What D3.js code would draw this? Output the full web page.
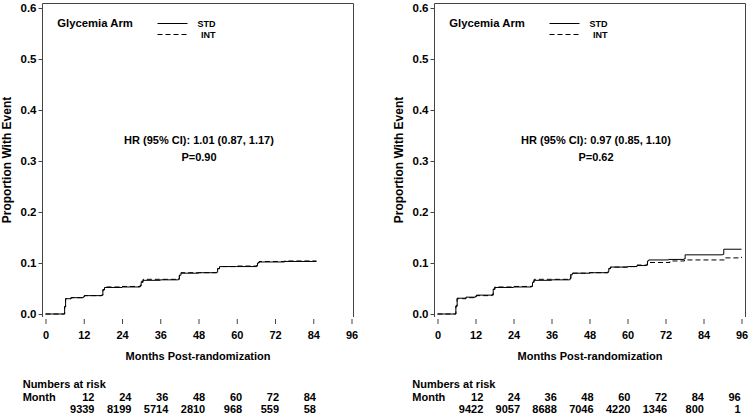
<!DOCTYPE html>
<html><head><meta charset="utf-8">
<script src="https://cdn.jsdelivr.net/npm/d3@7"></script>
<style>
body{margin:0;background:#fff}
svg{display:block}
text{font-family:"Liberation Sans",Arial,sans-serif;font-weight:bold;fill:#000}
</style>
</head><body><svg id="c" width="750" height="415"></svg>
<script>
// ---------- data ----------
const xTicks = [0, 12, 24, 36, 48, 60, 72, 84, 96];
const yTicks = [0.0, 0.1, 0.2, 0.3, 0.4, 0.5, 0.6];
const legendTitle = "Glycemia Arm";
const seriesNames = ["STD", "INT"];
const xTitle = "Months Post-randomization";
const yTitle = "Proportion With Event";

// step points [month, cumulative proportion]
const leftStd = [[0,0],[5.8,0],[6.0,0.015],[6.3,0.030],[8,0.032],[11.9,0.034],[12.2,0.036],[17.6,0.037],[18.0,0.047],[18.5,0.052],[24,0.053],[29.7,0.055],[30.0,0.062],[30.6,0.066],[36,0.067],[41.7,0.068],[42.0,0.076],[42.5,0.080],[48,0.081],[53.7,0.082],[54.0,0.089],[54.6,0.093],[60,0.093],[66.2,0.094],[66.5,0.100],[67,0.102],[75,0.103],[85,0.103]];
const leftInt = [[0,0],[5.8,0],[6.0,0.014],[6.3,0.030],[8,0.032],[11.9,0.034],[12.2,0.036],[17.6,0.037],[18.0,0.048],[18.5,0.053],[24,0.054],[29.7,0.056],[30.0,0.064],[30.6,0.068],[36,0.068],[41.7,0.069],[42.0,0.077],[42.5,0.081],[48,0.081],[53.7,0.082],[54.0,0.089],[54.6,0.093],[60,0.094],[66.2,0.095],[66.5,0.101],[67,0.103],[75,0.104],[85,0.104]];
const rightStd = [[0,0],[5.5,0],[5.8,0.016],[6.2,0.031],[9,0.033],[12,0.035],[12.3,0.037],[17.2,0.038],[17.6,0.048],[18.1,0.052],[24,0.053],[29.7,0.054],[30,0.062],[30.5,0.066],[36,0.067],[41.8,0.069],[42.1,0.077],[42.6,0.080],[48,0.081],[53.8,0.083],[54.1,0.089],[54.6,0.092],[60,0.093],[63,0.095],[65.9,0.096],[66.3,0.104],[66.7,0.106],[73,0.107],[77.8,0.108],[78.2,0.116],[90,0.117],[90.4,0.127],[96,0.127]];
const rightInt = [[0,0],[5.5,0],[5.8,0.015],[6.2,0.030],[9,0.032],[12,0.034],[12.3,0.036],[17.2,0.037],[17.6,0.049],[18.1,0.053],[24,0.054],[29.7,0.055],[30,0.064],[30.5,0.068],[36,0.068],[41.8,0.070],[42.1,0.078],[42.6,0.080],[48,0.081],[53.8,0.082],[54.1,0.089],[54.6,0.092],[60,0.093],[63,0.096],[66.3,0.100],[66.7,0.101],[73.4,0.104],[78,0.106],[90.7,0.110],[96,0.112]];

const hrLeft = "HR (95% CI): 1.01 (0.87, 1.17)";
const pLeft = "P=0.90";
const hrRight = "HR (95% CI): 0.97 (0.85, 1.10)";
const pRight = "P=0.62";

const riskMonthsLeft = [12, 24, 36, 48, 60, 72, 84];
const riskLeft = [9339, 8199, 5714, 2810, 968, 559, 58];
const riskMonthsRight = [12, 24, 36, 48, 60, 72, 84, 96];
const riskRight = [9422, 9057, 8688, 7046, 4220, 1346, 800, 1];

// ---------- layout ----------
const panels = [
  {frameL:42.5, frameR:353.5, x0:45.5, x96:351.5, hrX:199, std:leftStd, int:leftInt, hr:hrLeft, p:pLeft,
   ylabX:11, tabX:22.7, tabRange:[94.5,316], riskMonths:riskMonthsLeft, risk:riskLeft},
  {frameL:434.5, frameR:745.5, x0:437.5, x96:741.5, hrX:596, std:rightStd, int:rightInt, hr:hrRight, p:pRight,
   ylabX:403, tabX:412.3, tabRange:[483.3,740.7], riskMonths:riskMonthsRight, risk:riskRight}
];
const yTop = 3, yAxisBottom = 317;
const y = d3.scaleLinear().domain([0, 0.6]).range([314, 8]);
const svg = d3.select("#c");

panels.forEach(P => {
  const x = d3.scaleLinear().domain([0, 96]).range([P.x0, P.x96]);
  const g = svg.append("g");

  // frame (left, top, right)
  g.append("path")
    .attr("d", `M${P.frameL},${yAxisBottom}V${yTop+0.5}H${P.frameR}V${yAxisBottom}`)
    .attr("fill", "none").attr("stroke", "#444").attr("stroke-width", 1);

  // y axis
  const ya = g.append("g").attr("transform", `translate(${P.frameL},0)`)
    .call(d3.axisLeft(y).tickValues(yTicks).tickFormat(d3.format(".1f")).tickSize(4).tickPadding(2));
  ya.select(".domain").remove();
  ya.selectAll("line").attr("stroke", "#444");
  ya.selectAll("text").attr("font-size", 11.5).attr("font-family", null).attr("fill", "#000");

  // x axis (ticks only)
  const xa = g.append("g").attr("transform", `translate(0,319)`)
    .call(d3.axisBottom(x).tickValues(xTicks).tickFormat(d3.format("d")).tickSize(5).tickPadding(7));
  xa.select(".domain").remove();
  xa.selectAll("line").attr("stroke", "#444");
  xa.selectAll("text").attr("font-size", 11).attr("font-family", null).attr("fill", "#000");

  // titles
  const cx = (P.frameL + P.frameR) / 2;
  g.append("text").attr("x", cx).attr("y", 360).attr("text-anchor", "middle")
    .attr("font-size", 11).text(xTitle);
  g.append("text").attr("transform", `translate(${P.ylabX},160) rotate(-90)`)
    .attr("text-anchor", "middle").attr("font-size", 12).text(yTitle);

  // curves
  const line = d3.line().x(d => x(d[0])).y(d => y(d[1])).curve(d3.curveStepAfter);
  g.append("path").datum(P.std).attr("d", line).attr("fill", "none")
    .attr("stroke", "#000").attr("stroke-width", 1);
  g.append("path").datum(P.int).attr("d", line).attr("fill", "none")
    .attr("stroke", "#000").attr("stroke-width", 1).attr("stroke-dasharray", "5,3");

  // legend
  const lx = P.frameL + 14.8;
  g.append("text").attr("x", lx).attr("y", 27.3).attr("font-size", 11.3).text(legendTitle);
  const l1 = P.frameL + 115, l2 = P.frameL + 145, te = P.frameL + 173;
  g.append("line").attr("x1", l1).attr("x2", l2).attr("y1", 23.5).attr("y2", 23.5)
    .attr("stroke", "#000").attr("stroke-width", 1);
  g.append("line").attr("x1", l1).attr("x2", l2).attr("y1", 34.5).attr("y2", 34.5)
    .attr("stroke", "#000").attr("stroke-width", 1).attr("stroke-dasharray", "5,3");
  g.append("text").attr("x", te).attr("y", 26.8).attr("text-anchor", "end").attr("font-size", 9).text(seriesNames[0]);
  g.append("text").attr("x", te).attr("y", 37.8).attr("text-anchor", "end").attr("font-size", 9).text(seriesNames[1]);

  // HR / P
  g.append("text").attr("x", P.hrX).attr("y", 144).attr("text-anchor", "middle").attr("font-size", 11).text(P.hr);
  g.append("text").attr("x", P.hrX).attr("y", 161).attr("text-anchor", "middle").attr("font-size", 11).text(P.p);

  // numbers at risk
  const tx = d3.scaleLinear().domain([12, d3.max(P.riskMonths)]).range(P.tabRange);
  g.append("text").attr("x", P.tabX).attr("y", 388).attr("font-size", 11).text("Numbers at risk");
  g.append("text").attr("x", P.tabX).attr("y", 400.7).attr("font-size", 11).text("Month");
  g.selectAll(".rm").data(P.riskMonths).join("text").attr("class", "rm")
    .attr("x", d => tx(d)).attr("y", 400.7).attr("text-anchor", "end").attr("font-size", 11).text(d => d);
  g.selectAll(".rn").data(P.risk).join("text").attr("class", "rn")
    .attr("x", (d, i) => tx(P.riskMonths[i])).attr("y", 413.3).attr("text-anchor", "end").attr("font-size", 11).text(d => d);
});
</script>
</body></html>
